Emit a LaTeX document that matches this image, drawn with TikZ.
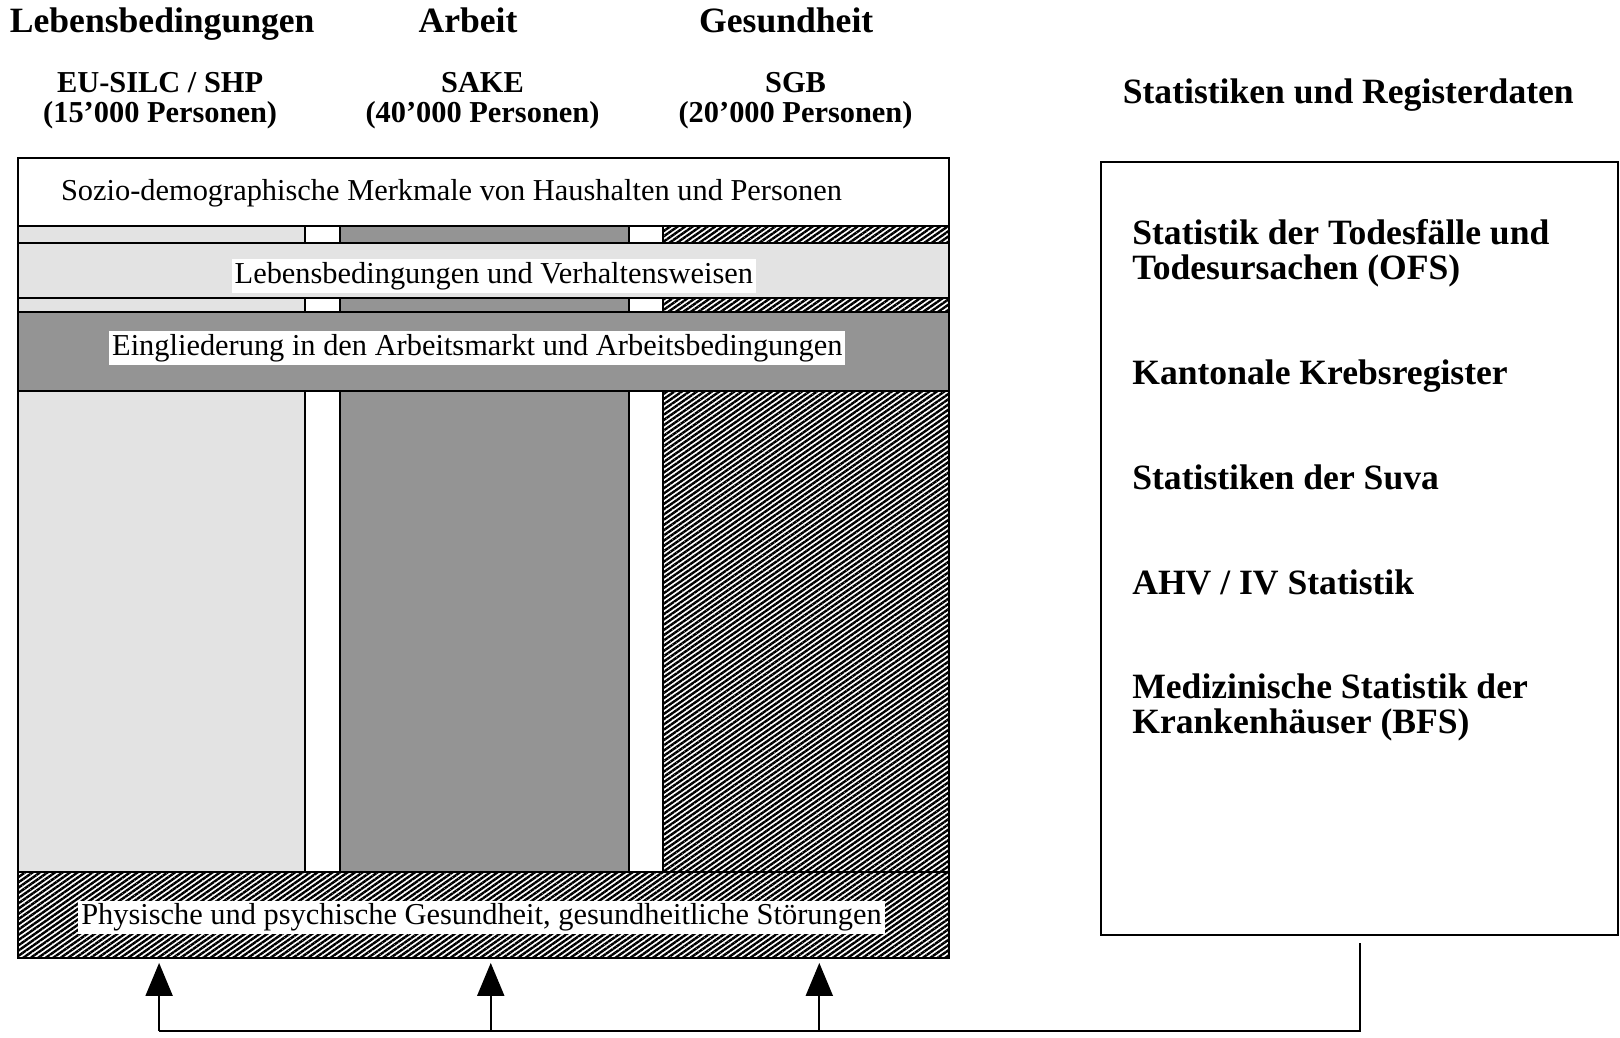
\documentclass[tikz,border=0pt]{standalone}
\usepackage{fontspec}
\setmainfont{Liberation Serif}
\usetikzlibrary{patterns.meta,arrows.meta}
\definecolor{hellgrau}{gray}{0.89}
\definecolor{dunkelgrau}{gray}{0.58}

\begin{document}
\begin{tikzpicture}[x=0.5166pt,y=-0.5166pt,line width=1pt,
  titel/.style={font=\fontsize{17.8}{17.6}\selectfont\bfseries,inner sep=0pt,anchor=base},
  stichprobe/.style={font=\fontsize{15.2}{15}\selectfont\bfseries,align=center,inner sep=0pt},
  band/.style={font=\fontsize{15.2}{15}\selectfont,fill=white,inner sep=1.5pt},
  quelle/.style={font=\fontsize{17.8}{17.6}\selectfont\bfseries,align=left,anchor=west,inner sep=0pt},
  schraffur/.style={preaction={fill=white},pattern={Lines[angle=35,distance=2.15pt,line width=1.2pt]}},
  pfeil/.style={-{Triangle[length=16.5pt,width=13.5pt]}}]
  \useasboundingbox (0,0) rectangle (1568,1003.7);
  % Spalten
  \draw[fill=hellgrau]   (17,219) rectangle (295,844);
  \draw[fill=dunkelgrau] (329,219) rectangle (609,844);
  \draw[schraffur]       (642,219) rectangle (919,844);
  % Bänder
  \draw[fill=white]      (17,153) rectangle (919,219);
  \draw[fill=hellgrau]   (17,235) rectangle (919,288);
  \draw[fill=dunkelgrau] (17,302) rectangle (919,378);
  \draw[schraffur]       (17,844) rectangle (919,927);
  \draw (17,153) rectangle (919,927);
  \node[band] (sozio)   at (437,187) {Sozio-demographische Merkmale von Haushalten und Personen};
  \node[band] (leben)   at (478,267) {Lebensbedingungen und Verhaltensweisen};
  \node[band] (arbeit)  at (462,337) {Eingliederung in den Arbeitsmarkt und Arbeitsbedingungen};
  \node[band] (gesund)  at (466,888) {Physische und psychische Gesundheit, gesundheitliche Störungen};

  \node[titel] (tleben)  at (157,31) {Lebensbedingungen};
  \node[titel] (tarbeit) at (453,31) {Arbeit};
  \node[titel] (tgesund) at (761,31) {Gesundheit};
  \node[stichprobe] (silc) at (155,97) {EU-SILC / SHP\\(15’000 Personen)};
  \node[stichprobe] (sake) at (467,97) {SAKE\\(40’000 Personen)};
  \node[stichprobe] (sgb)  at (770,97) {SGB\\(20’000 Personen)};
  \node[titel] (tregister) at (1305,100) {Statistiken und Registerdaten};

  \node[draw,minimum width=258.3pt,minimum height=386.4pt,inner sep=0pt] (register) at (1316,531) {};
  \node[quelle] (tod)   at (1095,245) {Statistik der Todesfälle und\\Todesursachen (OFS)};
  \node[quelle] (krebs) at (1095,364) {Kantonale Krebsregister};
  \node[quelle] (suva)  at (1095,462) {Statistiken der Suva};
  \node[quelle] (ahv)   at (1095,564) {AHV / IV Statistik};
  \node[quelle] (med)   at (1095,685) {Medizinische Statistik der\\Krankenhäuser (BFS)};

  \coordinate (sammel) at (1316,998);
  \foreach \x [count=\i] in {154,475,793} {
    \coordinate (fuss\i) at (\x,998);
    \coordinate (ziel\i) at (\x,932);
  }
  \draw ([yshift=-3.5pt]register.south) -- (sammel) -- (fuss1);
  \foreach \i in {1,2,3}
    \draw[pfeil] (fuss\i) -- (ziel\i);
\end{tikzpicture}
\end{document}
